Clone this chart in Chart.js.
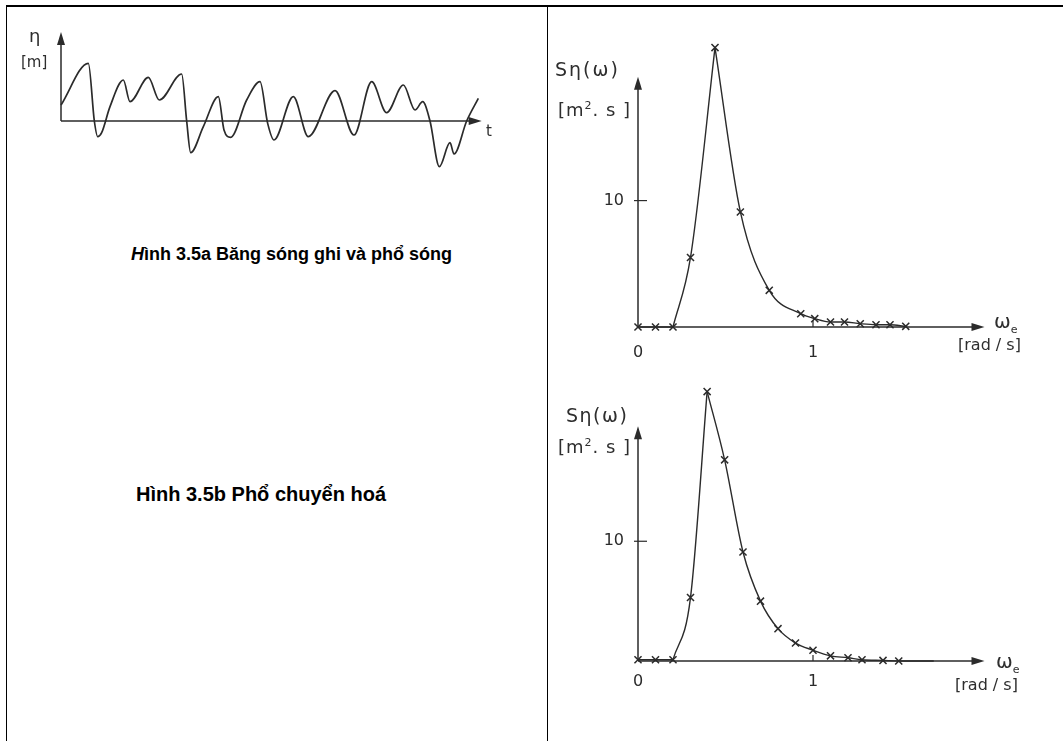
<!DOCTYPE html>
<html>
<head>
<meta charset="utf-8">
<script src="https://cdn.jsdelivr.net/npm/chart.js@4.4.1/dist/chart.umd.min.js"></script>
<style>
  html, body { margin:0; padding:0; background:#fff; }
  body { width:1063px; height:741px; position:relative; overflow:hidden; }
  .line { position:absolute; background:#000; }
  .box { position:absolute; }
  .lbl { position:absolute; font-family:"DejaVu Sans", sans-serif; color:#2e2e2e; white-space:nowrap; line-height:1; }
  .cap { position:absolute; font-family:"Liberation Sans", Arial, sans-serif; font-weight:bold; font-size:18px; color:#000; white-space:nowrap; line-height:1; }
</style>
</head>
<body>
<!-- table frame -->
<div class="line" style="left:6px; top:5px; width:1057px; height:2px;"></div>
<div class="line" style="left:6px; top:5px; width:1px; height:736px;"></div>
<div class="line" style="left:547px; top:5px; width:1px; height:736px;"></div>

<div class="box" style="left:8px; top:8px; width:538px; height:175px;"><canvas id="wave"></canvas></div>
<div class="box" style="left:548px; top:8px; width:512px; height:360px;"><canvas id="specA"></canvas></div>
<div class="box" style="left:548px; top:370px; width:512px; height:360px;"><canvas id="specB"></canvas></div>

<!-- wave labels -->
<div class="lbl" style="left:29px; top:27px; font-size:18px;">η</div>
<div class="lbl" style="left:21px; top:55px; font-size:15px;">[m]</div>
<div class="lbl" style="left:486px; top:124px; font-size:15px;">t</div>

<!-- spectrum A labels -->
<div class="lbl" style="left:555px; top:60px; font-size:19px; letter-spacing:2px;">Sη(ω)</div>
<div class="lbl" style="left:558px; top:100px; font-size:18px; letter-spacing:1px;">[m<sup style="font-size:11px;">2</sup>. s ]</div>
<div class="lbl" style="left:994px; top:311px; font-size:20px;">ω<sub style="font-size:11px;">e</sub></div>
<div class="lbl" style="left:958px; top:337px; font-size:16px;">[rad / s]</div>

<!-- spectrum B labels -->
<div class="lbl" style="left:566px; top:406px; font-size:19px; letter-spacing:1.5px;">Sη(ω)</div>
<div class="lbl" style="left:558px; top:437px; font-size:18px; letter-spacing:1px;">[m<sup style="font-size:11px;">2</sup>. s ]</div>
<div class="lbl" style="left:996px; top:651px; font-size:20px;">ω<sub style="font-size:11px;">e</sub></div>
<div class="lbl" style="left:955px; top:677px; font-size:16px;">[rad / s]</div>

<!-- captions -->
<div class="cap" style="left:131px; top:245px;"><i>H</i>ình 3.5a Băng sóng ghi và phổ sóng</div>
<div class="cap" style="left:136px; top:484px; font-size:20px;">Hình 3.5b Phổ chuyển hoá</div>

<script>
// ---------- DATA ----------
// wave record (time [s], elevation [m])
const waveT   = [0, 8.2, 10.0, 11.0, 12.2, 14.7, 18.7, 20.7, 26.2, 29.5, 36.2, 37.7, 38.9, 42.7, 47.2, 48.9, 50.9, 55.7, 59.7, 62.0, 63.9, 69.7, 74.2, 82.2, 87.9, 93.2, 97.7, 102.7, 106.2, 108.5, 110.7, 113.5, 116.7, 117.9, 121.7, 125.2];
const waveEta = [0.48, 1.73, 0, -0.47, -0.35, 0.43, 1.23, 0.58, 1.31, 0.63, 1.41, 0, -0.95, -0.17, 0.73, -0.27, -0.49, 0.63, 1.18, -0.07, -0.57, 0.73, -0.47, 0.91, -0.42, 1.18, 0.25, 1.08, 0.33, 0.58, 0, -1.37, -0.65, -0.99, 0, 0.68];

// wave spectrum (upper right)
const omegaA = [0, 0.1, 0.2, 0.3, 0.44, 0.585, 0.75, 0.93, 1.01, 1.1, 1.18, 1.27, 1.36, 1.44, 1.53];
const specA  = [0, 0, 0, 5.5, 22.1, 9.1, 2.9, 1.05, 0.66, 0.4, 0.4, 0.26, 0.18, 0.18, 0.05];

// transformed spectrum (lower right)
const omegaB = [0, 0.1, 0.2, 0.3, 0.395, 0.495, 0.6, 0.7, 0.8, 0.9, 1.0, 1.1, 1.2, 1.28, 1.4, 1.49];
const specB  = [0.1, 0.1, 0.1, 5.3, 22.5, 16.8, 9.1, 5.0, 2.7, 1.5, 0.9, 0.43, 0.27, 0.1, 0.05, 0];
const tailB  = [1.69, 0];   // end of the drawn curve beyond the last mark

// tick labels
const xTickValues = [0, 1];
const xTickLabels = ['0', '1'];
const yTickValues = [10];
const yTickLabels = ['10'];

// ---------- HELPERS ----------
const INK = '#2b2b2b';
const pts = (xs, ys) => xs.map((x, i) => ({x, y: ys[i]}));

const arrowAxes = {
  id: 'arrowAxes',
  beforeDatasetsDraw(chart, args, o) {
    const {ctx, scales: {x, y}} = chart;
    const x0 = x.getPixelForValue(0), y0 = y.getPixelForValue(0);
    const xe = x.getPixelForValue(o.xEnd), ye = y.getPixelForValue(o.yEnd);
    ctx.save();
    ctx.strokeStyle = INK; ctx.fillStyle = INK; ctx.lineWidth = 1.5;
    ctx.beginPath();
    ctx.moveTo(x0, y0); ctx.lineTo(xe - 4, y0);
    ctx.moveTo(x0, y0); ctx.lineTo(x0, ye + 4);
    ctx.stroke();
    ctx.beginPath(); ctx.moveTo(xe, y0); ctx.lineTo(xe - 13, y0 - 4); ctx.lineTo(xe - 13, y0 + 4); ctx.closePath(); ctx.fill();
    ctx.beginPath(); ctx.moveTo(x0, ye); ctx.lineTo(x0 - 4, ye + 13); ctx.lineTo(x0 + 4, ye + 13); ctx.closePath(); ctx.fill();
    ctx.lineWidth = 1.2;
    (o.yMarks || []).forEach(v => { const p = y.getPixelForValue(v); ctx.beginPath(); ctx.moveTo(x0 - 4, p); ctx.lineTo(x0 + 9, p); ctx.stroke(); });
    (o.xMarks || []).forEach(v => { const p = x.getPixelForValue(v); ctx.beginPath(); ctx.moveTo(p, y0); ctx.lineTo(p, y0 - 6); ctx.stroke(); });
    ctx.restore();
  }
};

// ---------- WAVE RECORD ----------
new Chart(document.getElementById('wave'), {
  type: 'line',
  data: { datasets: [{
    data: pts(waveT, waveEta), borderColor: INK, borderWidth: 1.7,
    pointRadius: 0, cubicInterpolationMode: 'monotone', clip: false
  }]},
  options: {
    responsive: true, maintainAspectRatio: false, animation: false, devicePixelRatio: 1,
    layout: { padding: { left: 0, right: 61, top: 17, bottom: 8 } },
    plugins: { legend: { display: false }, tooltip: { enabled: false }, arrowAxes: { xEnd: 126.2, yEnd: 2.67 } },
    scales: {
      x: { type: 'linear', min: 0, max: 127.2, display: false },
      y: { min: -1.62, max: 2.88, grid: { display: false }, border: { display: false },
           ticks: { display: false }, afterFit(s) { s.width = 53; } }
    }
  },
  plugins: [arrowAxes]
});

// ---------- SPECTRA ----------
function spectrum(id, xs, ys, extra, opt) {
  const peak = ys.indexOf(Math.max(...ys));
  const all = pts(xs, ys).concat(extra ? [{x: extra[0], y: extra[1]}] : []);
  const lineDs = (data) => ({ data, borderColor: INK, borderWidth: 1.4, pointRadius: 0,
                              cubicInterpolationMode: 'monotone', clip: false });
  new Chart(document.getElementById(id), {
    type: 'line',
    data: { datasets: [
      lineDs(all.slice(0, 3)),
      lineDs(all.slice(2, peak + 1)),
      lineDs(all.slice(peak)),
      { data: pts(xs, ys), showLine: false, pointStyle: 'crossRot', pointRadius: 5,
        pointBorderWidth: 1.5, pointBorderColor: INK, pointBackgroundColor: INK, clip: false }
    ]},
    options: {
      responsive: true, maintainAspectRatio: false, animation: false, devicePixelRatio: 1,
      layout: { padding: { left: 0, right: 72, top: opt.padTop, bottom: 0 } },
      plugins: { legend: { display: false }, tooltip: { enabled: false },
                 arrowAxes: { xEnd: 1.98, yEnd: opt.yArrow, yMarks: yTickValues, xMarks: [1] } },
      scales: {
        x: { type: 'linear', min: 0, max: 2.0, grid: { display: false }, border: { display: false },
             afterBuildTicks(s) { s.ticks = xTickValues.map(v => ({value: v})); },
             afterFit(s) { s.height = opt.xH; },
             ticks: { padding: opt.xPad, autoSkip: false, maxRotation: 0, color: INK,
                      font: { family: 'DejaVu Sans', size: 16 },
                      callback: (v, i) => xTickLabels[i] } },
        y: { min: 0, max: opt.yMax, grid: { display: false }, border: { display: false },
             afterBuildTicks(s) { s.ticks = yTickValues.map(v => ({value: v})); },
             afterFit(s) { s.width = 90; },
             ticks: { padding: 6, color: INK, font: { family: 'DejaVu Sans', size: 16 },
                      callback: (v, i) => yTickLabels[i] } }
      }
    },
    plugins: [arrowAxes]
  });
}

spectrum('specA', omegaA, specA, null, { padTop: 14.2, yMax: 24, yArrow: 19.8, xH: 41, xPad: 8 });
spectrum('specB', omegaB, specB, tailB, { padTop: 5.1, yMax: 23, yArrow: 19.6, xH: 69, xPad: 3 });
</script>
</body>
</html>
